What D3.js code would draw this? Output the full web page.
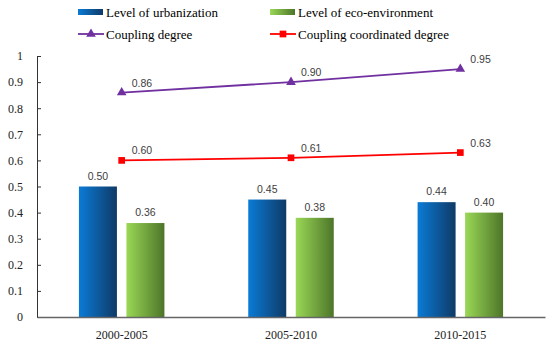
<!DOCTYPE html>
<html>
<head>
<meta charset="utf-8">
<script src="https://cdn.jsdelivr.net/npm/d3@7"></script>
<style>
  body { margin: 0; background: #fff; }
</style>
</head>
<body>
<div id="chart"></div>
<script>
'use strict';
// chart data
const periods = ["2000-2005", "2005-2010", "2010-2015"];
const urbanization = [0.50, 0.45, 0.44];
const ecoEnvironment = [0.36, 0.38, 0.40];
const couplingDegree = [0.86, 0.90, 0.95];
const coordinatedDegree = [0.60, 0.61, 0.63];
const yTicks = [0, 0.1, 0.2, 0.3, 0.4, 0.5, 0.6, 0.7, 0.8, 0.9, 1];

(function () {
  const width = 550, height = 343;
  const margin = {left: 37, right: 5, top: 56, bottom: 26};
  const serif = "'Liberation Serif', 'Times New Roman', serif";
  const sans = "'Liberation Sans', Arial, sans-serif";

  const svg = d3.select("#chart").append("svg")
    .attr("width", width).attr("height", height);

  const defs = svg.append("defs");
  function hGrad(id, from, to) {
    const g = defs.append("linearGradient").attr("id", id)
      .attr("x1", "0%").attr("x2", "100%").attr("y1", "0%").attr("y2", "0%");
    g.append("stop").attr("offset", "0%").attr("stop-color", from);
    g.append("stop").attr("offset", "100%").attr("stop-color", to);
  }
  hGrad("gBlue", "#0a7bd6", "#0f3a66");
  hGrad("gGreen", "#9ad856", "#4d7529");

  const x = d3.scaleBand().domain(periods)
    .range([margin.left, width - margin.right]).padding(0);
  const y = d3.scaleLinear().domain([0, 1])
    .range([height - margin.bottom, margin.top]);

  // bars
  const barW = 38, gap = 9.5;
  const bars = [
    {vals: urbanization, fill: "url(#gBlue)", off: -gap / 2 - barW},
    {vals: ecoEnvironment, fill: "url(#gGreen)", off: gap / 2}
  ];
  bars.forEach(b => {
    periods.forEach((p, i) => {
      const cx = x(p) + x.bandwidth() / 2;
      svg.append("rect")
        .attr("x", cx + b.off).attr("y", y(b.vals[i]))
        .attr("width", barW).attr("height", y(0) - y(b.vals[i]))
        .attr("fill", b.fill);
      svg.append("text")
        .attr("x", cx + b.off + barW / 2).attr("y", y(b.vals[i]) - 7)
        .attr("text-anchor", "middle")
        .attr("font-family", sans)
        .attr("font-size", 10.5).attr("fill", "#404040")
        .text(b.vals[i].toFixed(2));
    });
  });

  // axes
  const yAxis = svg.append("g").attr("transform", `translate(${margin.left},0)`)
    .call(d3.axisLeft(y).tickValues(yTicks).tickSizeInner(-4).tickSizeOuter(0)
      .tickPadding(14).tickFormat(d => d === 0 || d === 1 ? d3.format("d")(d) : d3.format(".1f")(d)));
  yAxis.select(".domain").attr("stroke", "#333");
  yAxis.selectAll(".tick line").attr("stroke", "#333");
  yAxis.selectAll("text").attr("font-size", 12).attr("fill", "#222")
    .attr("font-family", serif);

  const xAxis = svg.append("g").attr("transform", `translate(0,${y(0)})`)
    .call(d3.axisBottom(x).tickSize(0).tickPadding(13));
  xAxis.select(".domain").attr("stroke", "#666").attr("stroke-width", 1.3);
  xAxis.selectAll("text").attr("font-size", 12).attr("fill", "#222")
    .attr("font-family", serif);

  // lines
  const line = d3.line()
    .x((d, i) => x(periods[i]) + x.bandwidth() / 2)
    .y(d => y(d));
  const series = [
    {vals: couplingDegree, color: "#7030a0", shape: d3.symbolTriangle},
    {vals: coordinatedDegree, color: "#ff0000", shape: d3.symbolSquare}
  ];
  series.forEach(s => {
    svg.append("path").datum(s.vals).attr("d", line)
      .attr("fill", "none").attr("stroke", s.color).attr("stroke-width", 1.8);
    s.vals.forEach((v, i) => {
      const px = x(periods[i]) + x.bandwidth() / 2;
      svg.append("path")
        .attr("d", d3.symbol().type(s.shape).size(s.shape === d3.symbolSquare ? 45 : 40)())
        .attr("transform", `translate(${px},${y(v)})`)
        .attr("fill", s.color);
      svg.append("text")
        .attr("x", px + 10).attr("y", y(v) - 6)
        .attr("font-family", sans)
        .attr("font-size", 10.5).attr("fill", "#404040")
        .text(v.toFixed(2));
    });
  });

  // legend
  const legend = [
    {name: "Level of urbanization", type: "bar", fill: "url(#gBlue)", x: 78, y: 12},
    {name: "Level of eco-environment", type: "bar", fill: "url(#gGreen)", x: 270, y: 12},
    {name: "Coupling degree", type: "line", color: "#7030a0", shape: d3.symbolTriangle, x: 78, y: 34},
    {name: "Coupling coordinated degree", type: "line", color: "#ff0000", shape: d3.symbolSquare, x: 270, y: 34}
  ];
  legend.forEach(l => {
    const g = svg.append("g").attr("transform", `translate(${l.x},${l.y})`);
    if (l.type === "bar") {
      g.append("rect").attr("x", 0).attr("y", -3).attr("width", 25).attr("height", 6).attr("fill", l.fill);
    } else {
      g.append("line").attr("x1", 0).attr("x2", 26).attr("y1", 0).attr("y2", 0)
        .attr("stroke", l.color).attr("stroke-width", 1.8);
      g.append("path").attr("d", d3.symbol().type(l.shape).size(l.shape === d3.symbolSquare ? 45 : 40)())
        .attr("transform", "translate(13,0)").attr("fill", l.color);
    }
    g.append("text").attr("x", 28).attr("y", 4.5)
      .attr("font-family", serif)
      .attr("font-size", 13).attr("fill", "#000")
      .text(l.name);
  });
})();
</script>
</body>
</html>
